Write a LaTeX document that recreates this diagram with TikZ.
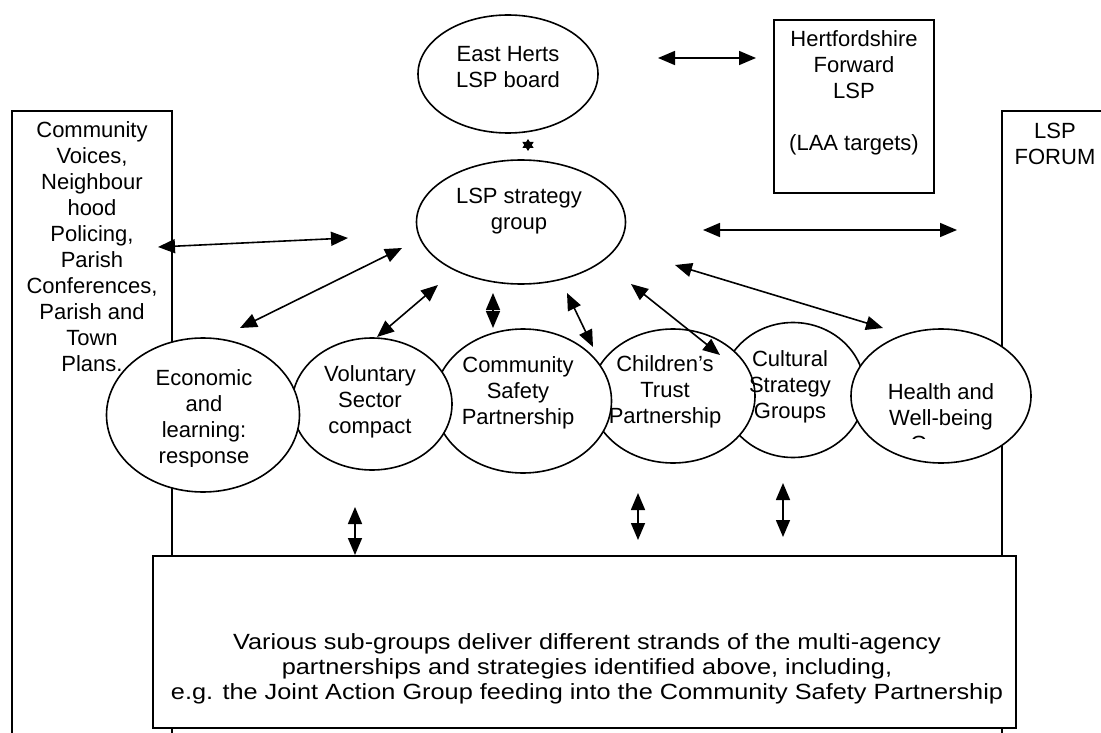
\documentclass[tikz,border=0pt]{standalone}
\usepackage{fontspec}
\setmainfont{Liberation Sans}
\newfontfamily\widesans[FakeStretch=1.15]{Liberation Sans}
\usepackage{tikz}
\usetikzlibrary{shapes.geometric}
\usetikzlibrary{arrows.meta}

\tikzset{
   bubble/.style={ellipse, draw, fill=white, line width=1.6pt, inner sep=0pt},
   panel/.style={rectangle, draw, fill=white, line width=1.6pt, inner sep=0pt},
   words/.style={align=center, inner sep=0pt, font=\fontsize{22}{26}\selectfont},
   twoway/.style={line width=1.6pt,
      arrows={Triangle[length=17pt,width=14pt]-Triangle[length=17pt,width=14pt]}},
   tinyway/.style={line width=1.2pt,
      arrows={Triangle[length=9pt,width=11pt]-Triangle[length=9pt,width=11pt]}}
}

\begin{document}
\begin{tikzpicture}[x=1pt, y=-1pt]
   \useasboundingbox (0,0) rectangle (1101,733);
   \clip (0,0) rectangle (1101,733);

   % side panels, running off the page
   \node[panel, minimum width=160pt, minimum height=649pt] (voices) at (92,435.5) {};
   \node[panel, minimum width=118pt, minimum height=649pt] (forum) at (1061,435.5) {};
   \node[words] (voices-t) at (92,247) {Community\\Voices,\\Neighbour\\hood\\Policing,\\Parish\\Conferences,\\Parish and\\Town\\Plans.};
   \node[words] (forum-t) at (1055,143.5) {LSP\\FORUM};

   \node[panel, minimum width=160pt, minimum height=173pt] (herts) at (854,106.5) {};
   \node[words] (herts-t) at (854,93.3) {Hertfordshire\\Forward\\LSP\\[26pt](LAA targets)};

   \node[bubble, minimum width=180pt, minimum height=118pt] (east) at (508,74) {};
   \node[bubble, minimum width=209pt, minimum height=124pt] (strat) at (521,222) {};

   % the partnerships, back to front
   \node[bubble, minimum width=144pt, minimum height=135pt] (cult) at (793,390) {};
   \node[bubble, minimum width=164pt, minimum height=134pt] (child) at (673,396) {};
   \node[bubble, minimum width=177pt, minimum height=144pt] (safety) at (523,401) {};
   \node[bubble, minimum width=160pt, minimum height=132pt] (vol) at (372,404) {};
   \node[bubble, minimum width=193pt, minimum height=154pt] (econ) at (203,415) {};
   \node[bubble, minimum width=180pt, minimum height=134pt] (health) at (941,396) {};

   \node[words] (east-t) at (508,67.5) {East Herts\\LSP board};
   \node[words] (strat-t) at (519,211.3) {LSP strategy\\group};
   \begin{scope}
      \clip (100,330) rectangle (300,466);
      \node[words] (econ-t) at (204,419.3) {Economic\\and\\learning:\\response};
   \end{scope}
   \node[words] (vol-t) at (370,401.8) {Voluntary\\Sector\\compact};
   \node[words] (safety-t) at (518,393.3) {Community\\Safety\\Partnership};
   \node[words] (child-t) at (665,391.8) {Children’s\\Trust\\Partnership};
   \node[words] (cult-t) at (790,387.3) {Cultural\\Strategy\\Groups};
   \begin{scope}
      \clip (850,380) rectangle (1040,438.5);
      \node[words] (health-t) at (941,420.3) {Health and\\Well-being\\Group};
   \end{scope}

   \node[panel, minimum width=863pt, minimum height=172pt] (subgroups) at (584.5,642) {};
   \node[words, font=\widesans\fontsize{22}{25}\selectfont] (subgroups-t) at (587,669.3)
      {Various sub-groups deliver different strands of the multi-agency\\
       partnerships and strategies identified above, including,\\
       e.g. the Joint Action Group feeding into the Community Safety Partnership};

   % free arrow ends
   \coordinate (h1) at (658,58);   \coordinate (h2) at (756,58);
   \coordinate (s1) at (528,139);  \coordinate (s2) at (528,151);
   \coordinate (v1) at (158,247);  \coordinate (v2) at (348,238);
   \coordinate (f1) at (703,230);  \coordinate (f2) at (957,230);
   \coordinate (e1) at (402,248);  \coordinate (e2) at (240,328);
   \coordinate (o1) at (438,285);  \coordinate (o2) at (377,337);
   \coordinate (c1) at (493,293);  \coordinate (c2) at (493,328);
   \coordinate (t1) at (567,293);  \coordinate (t2) at (593,347);
   \coordinate (g1) at (631,284);  \coordinate (g2) at (720,355);
   \coordinate (w1) at (675,265);  \coordinate (w2) at (883,328);
   \coordinate (b1) at (355,507);  \coordinate (b2) at (355,555);
   \coordinate (b3) at (638,493);  \coordinate (b4) at (638,540);
   \coordinate (b5) at (783,483);  \coordinate (b6) at (783,537);

   \foreach \from/\to in {h1/h2, v1/v2, f1/f2, e1/e2, o1/o2, c1/c2, t1/t2, g1/g2, w1/w2, b1/b2, b3/b4, b5/b6}
      \draw[twoway] (\from) -- (\to);
   \draw[tinyway] (s1) -- (s2);

\end{tikzpicture}
\end{document}
